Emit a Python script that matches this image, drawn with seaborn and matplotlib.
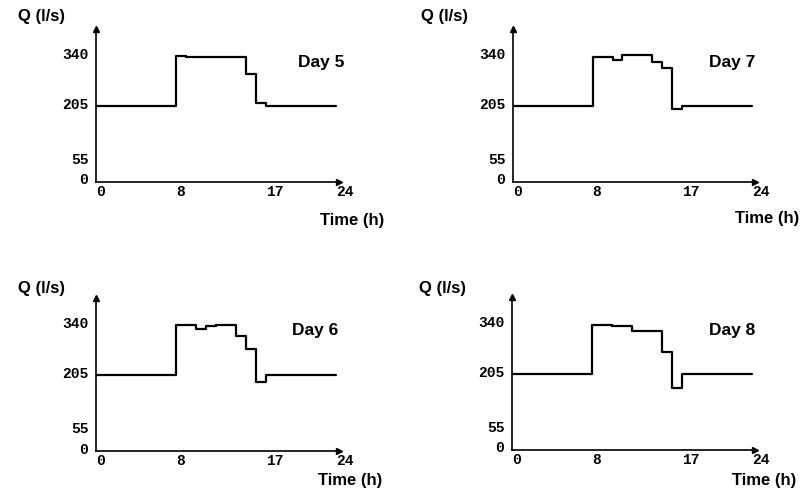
import matplotlib
matplotlib.use("Agg")
import matplotlib.pyplot as plt
import matplotlib.transforms as mtransforms
import seaborn as sns
import pandas as pd

# ---- data (hourly flow values, l/s, hours 0..23) ----
hours = list(range(24))
q_day5 = [205] * 8 + [341] + [338] * 6 + [292, 213] + [205] * 7
q_day7 = [205] * 8 + [340, 340, 331, 345, 345, 345, 325, 308, 198] + [206] * 7
q_day6 = [205] * 8 + [341, 341, 331, 338, 341, 341, 311, 278, 188] + [205] * 7
q_day8 = [205] * 8 + [340, 340, 337, 337, 323, 323, 323, 266, 169] + [205] * 7

day_names = ["Day 5", "Day 7", "Day 6", "Day 8"]
day_series = [q_day5, q_day7, q_day6, q_day8]
y_ticks = [0, 55, 205, 340]
y_ticklabels = ["0", "55", "205", "340"]
x_ticks = [0, 8, 17, 24]
x_ticklabels = ["0", "8", "17", "24"]

sns.set_theme(style="white")
plt.rcParams["font.family"] = ["Liberation Sans", "DejaVu Sans"]

W, H = 809, 500
fig = plt.figure(figsize=(W / 100, H / 100), dpi=100)

panels = [
    dict(ox=96, oy=182, top=29, pxh=10.0, qx=42, qy=17, tx=352, ty=220, dx=321, dy=63),
    dict(ox=513, oy=182, top=29, pxh=9.95, qx=445, qy=17, tx=767, ty=219, dx=732, dy=62),
    dict(ox=96, oy=451, top=298, pxh=10.0, qx=42, qy=288, tx=350, ty=480, dx=315, dy=331),
    dict(ox=512, oy=450, top=297, pxh=10.0, qx=443, qy=288, tx=764, ty=480, dx=732, dy=331),
]

tick_font = dict(family="Liberation Mono", weight="bold", size=10.5)

for p, name, q in zip(panels, day_names, day_series):
    xmax = 24.3
    left = p["ox"] / W
    bottom = 1 - p["oy"] / H
    width = xmax * p["pxh"] / W
    height = (p["oy"] - p["top"]) / H
    ax = fig.add_axes([left, bottom, width, height])
    df = pd.DataFrame({"hour": hours + [24], "Q": q + [q[-1]]})
    sns.lineplot(data=df, x="hour", y="Q", ax=ax, color="black",
                 linewidth=1.6, drawstyle="steps-post", legend=False)
    ax.set_xlim(0, xmax)
    ax.set_ylim(0, 415)
    ax.set_xlabel("")
    ax.set_ylabel("")
    for s in ["top", "right"]:
        ax.spines[s].set_visible(False)
    for s in ["left", "bottom"]:
        ax.spines[s].set_color("black")
        ax.spines[s].set_linewidth(1.2)
    ax.plot(1, 0, ">", color="black", markersize=5, transform=ax.transAxes, clip_on=False)
    ax.plot(0, 1, "^", color="black", markersize=5, transform=ax.transAxes, clip_on=False)
    ax.set_yticks(y_ticks)
    ax.set_yticklabels(y_ticklabels, fontdict=tick_font)
    ax.set_xticks(x_ticks)
    ax.set_xticklabels(x_ticklabels, fontdict=tick_font)
    ax.tick_params(axis="y", direction="inout", length=5, width=1, pad=3, colors="black")
    ax.tick_params(axis="x", length=0, pad=2, colors="black")
    up = mtransforms.ScaledTranslation(0, 3 / 100, fig.dpi_scale_trans)
    for lbl in ax.get_yticklabels():
        lbl.set_transform(lbl.get_transform() + up)
    for lbl in ax.get_xticklabels():
        lbl.set_horizontalalignment("left")
    ax.patch.set_alpha(0)

    fig.text(p["qx"] / W, 1 - p["qy"] / H, "Q (l/s)", ha="center", va="center",
             fontsize=12, fontweight="bold", color="black")
    fig.text(p["tx"] / W, 1 - p["ty"] / H, "Time (h)", ha="center", va="center",
             fontsize=12, fontweight="bold", color="black")
    fig.text(p["dx"] / W, 1 - p["dy"] / H, name, ha="center", va="center",
             fontsize=12.5, fontweight="bold", color="black")

fig.savefig("out.png", dpi=100, facecolor="white")
